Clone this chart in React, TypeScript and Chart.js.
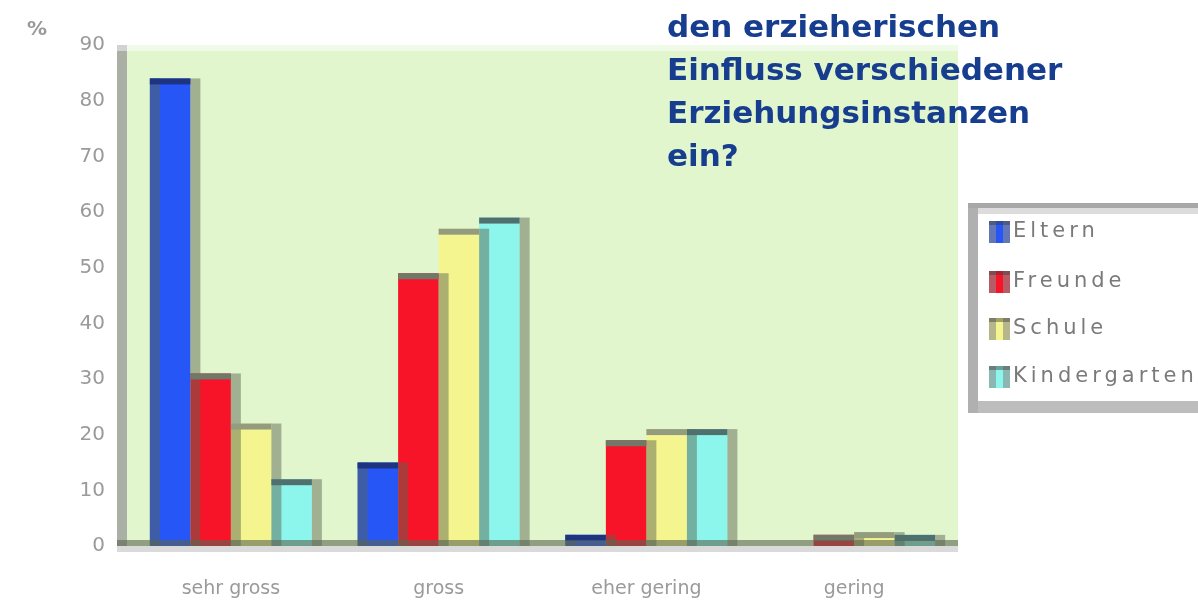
import React, { useEffect, useRef } from "react";
import { Chart, registerables } from "chart.js";

Chart.register(...registerables);

const categories = ["sehr gross", "gross", "eher gering", "gering"];
const seriesNames = ["Eltern", "Freunde", "Schule", "Kindergarten"];
const eltern = [84, 15, 2, 0];
const freunde = [31, 49, 19, 2];
const schule = [22, 57, 21, 2.5];
const kindergarten = [12, 59, 21, 2];
const yMin = 0;
const yMax = 90;
const yStep = 10;
const unitLabel = "%";
const titleLines = ["den erzieherischen", "Einfluss verschiedener", "Erziehungsinstanzen", "ein?"];

const barColors = ["#2656f5", "#f81428", "#f5f590", "#8cf5ec"];
const topColors = ["#1e3480", "#707868", "#949c80", "#507070"];

const decorPlugin = {
  id: "decor",
  beforeDatasetsDraw(chart: any) {
    const { ctx, chartArea: a } = chart;
    ctx.save();
    ctx.fillStyle = "#e2f6ce";
    ctx.fillRect(a.left, a.top, a.right - a.left, a.bottom - a.top);
    ctx.fillStyle = "#f0fae8";
    ctx.fillRect(a.left, a.top, a.right - a.left, 6);
    ctx.fillStyle = "#aab0a6";
    ctx.fillRect(a.left - 10, a.top, 10, a.bottom - a.top);
    ctx.fillStyle = "#d2d2d2";
    ctx.fillRect(a.left - 10, a.top, 10, 6);
    ctx.restore();
  },
  afterDatasetsDraw(chart: any) {
    const { ctx, chartArea: a } = chart;
    ctx.save();
    const n = chart.data.datasets.length;
    ctx.fillStyle = "rgba(90,100,80,0.48)";
    for (let i = 0; i < n; i++) {
      const meta = chart.getDatasetMeta(i);
      meta.data.forEach((bar: any) => {
        const p = bar.getProps(["x", "y", "base", "width"], true);
        const h = p.base - p.y;
        if (h <= 0.5) return;
        const left = p.x - p.width / 2;
        const right = p.x + p.width / 2;
        ctx.fillRect(right, p.y, 10, h);
        if (i === 0) ctx.fillRect(left, p.y, 10, h);
      });
    }
    for (let i = 0; i < n; i++) {
      const meta = chart.getDatasetMeta(i);
      meta.data.forEach((bar: any) => {
        const p = bar.getProps(["x", "y", "base", "width"], true);
        const h = p.base - p.y;
        if (h <= 0.5) return;
        const left = p.x - p.width / 2;
        ctx.fillStyle = topColors[i];
        ctx.fillRect(left, p.y, p.width, Math.min(6, h));
      });
    }
    ctx.fillStyle = "rgba(90,100,80,0.6)";
    ctx.fillRect(a.left - 10, a.bottom - 6, a.right - a.left + 10, 6);
    ctx.fillStyle = "#dadada";
    ctx.fillRect(a.left - 10, a.bottom, a.right - a.left + 10, 6);
    ctx.restore();
  },
  afterDraw(chart: any) {
    const { ctx } = chart;
    ctx.save();
    ctx.fillStyle = "#999999";
    ctx.font = "bold 20px 'DejaVu Sans'";
    ctx.textAlign = "left";
    ctx.textBaseline = "middle";
    ctx.fillText(unitLabel, 27, 30);
    const bx = 968, by = 203, bw = 240, bh = 210;
    ctx.fillStyle = "#ffffff";
    ctx.fillRect(bx, by, bw, bh);
    ctx.fillStyle = "#a8a8a8";
    ctx.fillRect(bx, by, bw, 5);
    ctx.fillStyle = "#dcdcdc";
    ctx.fillRect(bx + 10, by + 5, bw, 6);
    ctx.fillStyle = "#b0b0b0";
    ctx.fillRect(bx, by + 5, 10, bh - 5);
    ctx.fillStyle = "#bdbdbd";
    ctx.fillRect(bx + 10, by + bh - 12, bw, 12);
    const centers = [232, 282, 329, 377];
    chart.data.datasets.forEach((ds: any, i: number) => {
      const cy = centers[i];
      ctx.fillStyle = barColors[i];
      ctx.fillRect(989, cy - 11, 21, 22);
      ctx.fillStyle = "rgba(140,140,140,0.6)";
      ctx.fillRect(989, cy - 11, 7, 22);
      ctx.fillRect(1003, cy - 11, 7, 22);
      ctx.fillStyle = "rgba(60,60,60,0.45)";
      ctx.fillRect(989, cy - 11, 21, 4);
      ctx.fillStyle = "#7a7a7a";
      ctx.font = "21px 'DejaVu Sans'";
      (ctx as any).letterSpacing = "4px";
      ctx.textAlign = "left";
      ctx.textBaseline = "middle";
      ctx.fillText(ds.label, 1013, cy);
      (ctx as any).letterSpacing = "0px";
    });
    ctx.restore();
  },
};

export default function App() {
  const canvasRef = useRef<HTMLCanvasElement | null>(null);

  useEffect(() => {
    const canvas = canvasRef.current;
    if (!canvas) return;
    const series = [eltern, freunde, schule, kindergarten];
    const chart = new Chart(canvas, {
      type: "bar",
      data: {
        labels: categories,
        datasets: series.map((d, i) => ({
          label: seriesNames[i],
          data: d,
          backgroundColor: barColors[i],
          borderWidth: 0,
          categoryPercentage: 0.78,
          barPercentage: 1.0,
        })),
      },
      options: {
        responsive: false,
        animation: false,
        layout: { padding: { top: 45, right: 240, bottom: 0, left: 0 } },
        plugins: {
          legend: { display: false },
          title: { display: false },
          tooltip: { enabled: false },
        },
        scales: {
          x: {
            grid: { display: false, drawTicks: false },
            border: { display: false },
            ticks: {
              color: "#9a9a9a",
              font: { family: "'DejaVu Sans'", size: 19 },
              padding: 32,
            },
            afterFit: (scale: any) => {
              scale.height = 55;
            },
          },
          y: {
            min: yMin,
            max: yMax,
            grid: { display: false, drawTicks: false },
            border: { display: false },
            ticks: {
              stepSize: yStep,
              color: "#9a9a9a",
              font: { family: "'DejaVu Sans'", size: 20 },
              padding: 22,
            },
            afterFit: (scale: any) => {
              scale.width = 127;
            },
          },
        },
      },
      plugins: [decorPlugin],
    });
    return () => chart.destroy();
  }, []);

  return (
    <div style={{ position: "absolute", left: 0, top: 0, width: 1198, height: 601, overflow: "hidden", background: "#ffffff" }}>
      <canvas ref={canvasRef} width={1198} height={601} style={{ display: "block" }} />
      <div
        style={{
          position: "absolute",
          left: 667,
          top: 5,
          fontFamily: "'DejaVu Sans', sans-serif",
          fontWeight: "bold",
          fontSize: 31,
          lineHeight: "43px",
          color: "#173d8f",
          whiteSpace: "nowrap",
        }}
      >
        {titleLines.map((t, i) => (
          <div key={i}>{t}</div>
        ))}
      </div>
    </div>
  );
}
